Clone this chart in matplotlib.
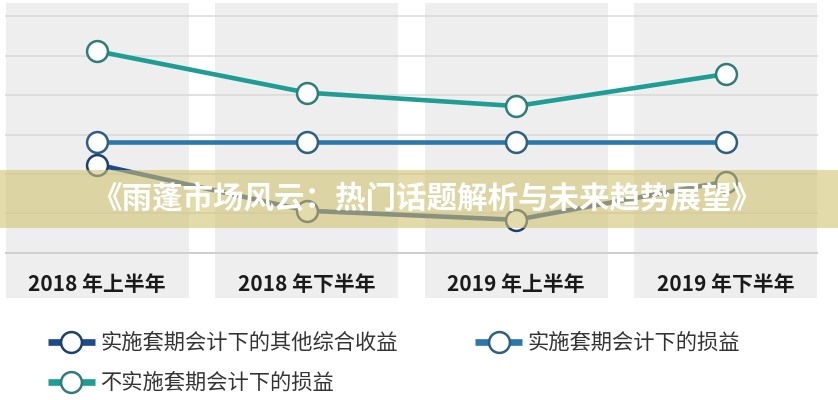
import numpy as np
import matplotlib
matplotlib.use('Agg')
import matplotlib.pyplot as plt
from matplotlib.patches import Rectangle
from matplotlib.lines import Line2D

plt.rcParams['font.family'] = ['Noto Sans CJK SC', 'DejaVu Sans']

periods = ['2018 年上半年', '2018 年下半年', '2019 年上半年', '2019 年下半年']
oci_hedge = [2.24, 1.07, 0.84, 1.81]        # 实施套期会计下的其他综合收益
pl_hedge = [2.82, 2.82, 2.82, 2.82]         # 实施套期会计下的损益
pl_no_hedge = [5.11, 4.06, 3.72, 4.53]      # 不实施套期会计下的损益
series_names = ['实施套期会计下的其他综合收益', '实施套期会计下的损益', '不实施套期会计下的损益']
banner_title = '《雨蓬市场风云：热门话题解析与未来趋势展望》'

colors = ['#1c4b8c', '#2b78aa', '#1d9d93']
edges = ['#1d3f70', '#2c5f80', '#2e7d78']

fig = plt.figure(figsize=(8.38, 4.0), dpi=100)
ax = fig.add_axes([5 / 838, 1 - 298 / 400, 813 / 838, 295 / 400])

x = np.arange(len(periods))
ax.set_xlim(-0.44, 3.44)
ax.set_ylim(-1.14, 6.33)

# grey column bands
for xi in x:
    ax.axvspan(xi - 0.436, xi + 0.436, color='#eeeeee', lw=0, zorder=0.2)

ax.set_yticks(range(7))
ax.grid(axis='y', color='#d9d9d9', lw=1.1, zorder=0.5)
ax.set_axisbelow(True)
ax.axhline(0, color='#cfcfcf', lw=1.4, zorder=0.6)

handles = []
for vals, c, ec, name in zip([oci_hedge, pl_hedge, pl_no_hedge], colors, edges, series_names):
    ax.plot(x, vals, color=c, lw=3.3, marker='o', ms=15, mfc='white',
            mec=ec, mew=1.8, zorder=3, label=name, solid_capstyle='butt')
    # thicker stroke for the legend key
    handles.append(Line2D([], [], color=c, lw=4.8, marker='o', ms=15, mfc='white',
                          mec=ec, mew=1.8, solid_capstyle='butt'))

ax.set_xticks(x, periods)
ax.tick_params(axis='x', length=0, pad=-17, labelsize=15, labelcolor='#1a1a1a')
for lbl in ax.get_xticklabels():
    lbl.set_fontweight('bold')
ax.tick_params(axis='y', length=0, labelleft=False)
for s in ax.spines.values():
    s.set_visible(False)

leg = fig.legend([handles[0], handles[2], handles[1]],
                 [series_names[0], series_names[2], series_names[1]],
                 ncol=2, loc='upper left', bbox_to_anchor=(48 / 838, 1 - 332 / 400),
                 frameon=False, fontsize=15.3, handlelength=2.2, handletextpad=0.25,
                 columnspacing=3.65, labelspacing=0.85, borderaxespad=0, borderpad=0,
                 numpoints=1)
for t in leg.get_texts():
    t.set_color('#333333')

# overlay banner
fig.patches.append(Rectangle((0, 1 - 228 / 400), 1, 58 / 400, transform=fig.transFigure,
                             facecolor='#d3c374', alpha=0.6, lw=0, zorder=5))
fig.text(427 / 838, 1 - 199 / 400, banner_title, color='white', fontsize=22,
         fontweight='heavy', ha='center', va='center', zorder=6)

fig.savefig('out.png', dpi=100)
